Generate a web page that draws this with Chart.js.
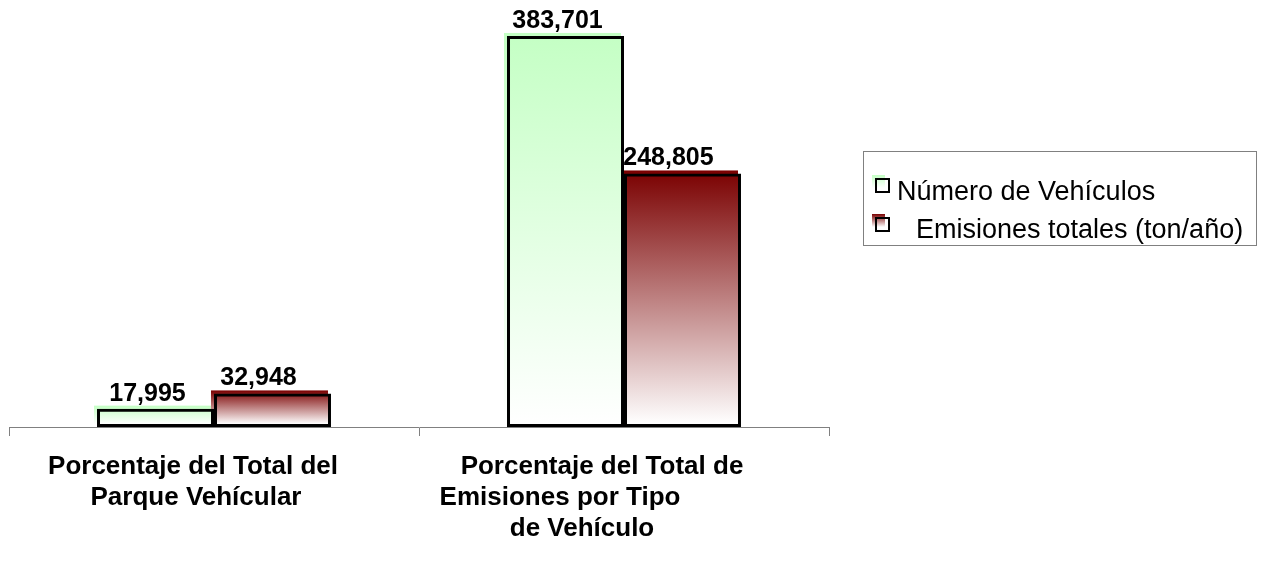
<!DOCTYPE html>
<html>
<head>
<meta charset="utf-8">
<script src="https://cdn.jsdelivr.net/npm/chart.js@4"></script>
<style>
  html, body { margin: 0; padding: 0; background: #fff; }
  #wrap { position: relative; width: 1269px; height: 584px; }
  #legend {
    position: absolute; left: 863px; top: 151px; width: 394px; height: 95px;
    border: 1px solid #808080; box-sizing: border-box;
    font-family: "Liberation Sans", Arial, sans-serif; font-size: 27px; color: #000;
  }
  #legend .item { position: absolute; white-space: nowrap; }
  #legend .shadow { position: absolute; width: 13px; height: 13px; }
  #legend .box { position: absolute; width: 11px; height: 11px; border: 2px solid #000; }
</style>
</head>
<body>
<div id="wrap">
  <canvas id="chart" width="1269" height="584"></canvas>
  <div id="legend"></div>
</div>
<script>
const categories = [
  ["Porcentaje del Total del", "Parque Vehícular"],
  ["Porcentaje del Total de", "Emisiones por Tipo", "de Vehículo"]
]
const seriesNames = ["Número de Vehículos", "Emisiones totales (ton/año)"]
const vehiculos = [17995, 383701]
const emisiones = [32948, 248805]

// top / bottom colours of each series gradient
const gradColors = [["#c4ffc4", "#ffffff"], ["#7a0000", "#ffffff"]]
// per-line horizontal nudges of the category text (wrapped with spaces in the original)
const lineShift = [[-21, -18], [-22, -64, -42]]
const labelShift = [-8, -14]

const fmt = v => v.toLocaleString("en-US")

// gradient fill drawn a few px up-left of the black frame
const shiftedFill = {
  id: "shiftedFill",
  beforeDatasetsDraw(chart) {
    const ctx = chart.ctx
    chart.data.datasets.forEach((ds, di) => {
      chart.getDatasetMeta(di).data.forEach(el => {
        const { x, y, base, width } = el.getProps(["x", "y", "base", "width"], true)
        const g = ctx.createLinearGradient(0, y - 3, 0, base - 3)
        g.addColorStop(0, gradColors[di][0])
        g.addColorStop(1, gradColors[di][1])
        ctx.save()
        ctx.fillStyle = g
        ctx.fillRect(x - width / 2 - 3, y - 3, width, base - y)
        ctx.restore()
      })
    })
  },
  afterDatasetsDraw(chart) {
    const ctx = chart.ctx
    ctx.save()
    ctx.font = "bold 25px 'Liberation Sans', Arial, sans-serif"
    ctx.fillStyle = "#000"
    ctx.textAlign = "center"
    ctx.textBaseline = "alphabetic"
    chart.data.datasets.forEach((ds, di) => {
      chart.getDatasetMeta(di).data.forEach((el, i) => {
        ctx.fillText(fmt(ds.data[i]), el.x + labelShift[di], el.y - 8)
      })
    })
    ctx.restore()
  },
  afterDraw(chart) {
    const ctx = chart.ctx
    const xs = chart.scales.x
    ctx.save()
    ctx.font = "bold 26px 'Liberation Sans', Arial, sans-serif"
    ctx.fillStyle = "#000"
    ctx.textAlign = "center"
    ctx.textBaseline = "middle"
    chart.data.labels.forEach((lines, i) => {
      const cx = xs.getPixelForValue(i)
      lines.forEach((t, k) => ctx.fillText(t, cx + lineShift[i][k], 467 + k * 31))
    })
    ctx.restore()
  }
}

const barStyle = {
  backgroundColor: "rgba(0,0,0,0)",
  borderColor: "#000000",
  borderWidth: 3,
  borderSkipped: false,
  categoryPercentage: 0.5707,
  barPercentage: 1
}

const chart = new Chart(document.getElementById("chart"), {
  type: "bar",
  data: {
    labels: categories,
    datasets: [
      { label: seriesNames[0], data: vehiculos, ...barStyle },
      { label: seriesNames[1], data: emisiones, ...barStyle }
    ]
  },
  options: {
    responsive: false,
    animation: false,
    devicePixelRatio: 1,
    layout: { padding: { left: 9, right: 440, top: 0, bottom: 148 } },
    plugins: { legend: { display: false }, tooltip: { enabled: false }, colors: { enabled: false } },
    scales: {
      x: {
        offset: true,
        grid: { display: true, offset: true, drawOnChartArea: false, drawTicks: true, tickLength: 9, color: "#808080" },
        border: { display: true, color: "#808080", width: 1 },
        ticks: { display: false }
      },
      y: { display: false, min: 0, max: 419000 }
    }
  },
  plugins: [shiftedFill]
})

// legend, built from the dataset labels
const legend = document.getElementById("legend")
const spots = [
  { box: [11, 26], text: [33, 24] },
  { box: [11, 65], text: [52, 62] }
]
chart.data.datasets.forEach((ds, i) => {
  const s = spots[i]
  const sh = document.createElement("div")
  sh.className = "shadow"
  sh.style.left = (s.box[0] - 3) + "px"
  sh.style.top = (s.box[1] - 3) + "px"
  sh.style.background = `linear-gradient(${gradColors[i][0]}, ${gradColors[i][1]})`
  legend.appendChild(sh)
  const bx = document.createElement("div")
  bx.className = "box"
  bx.style.left = s.box[0] + "px"
  bx.style.top = s.box[1] + "px"
  legend.appendChild(bx)
  const tx = document.createElement("div")
  tx.className = "item"
  tx.style.left = s.text[0] + "px"
  tx.style.top = s.text[1] + "px"
  tx.textContent = ds.label
  legend.appendChild(tx)
})
</script>
</body>
</html>
